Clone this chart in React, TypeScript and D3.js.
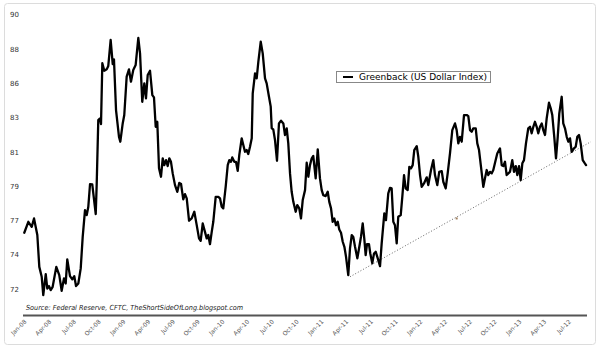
import React, { useEffect } from "react";
import * as d3 from "d3";

// months since Jan-2008 (category position) and index values
const months = [-0.45,0.04,0.45,0.73,1.13,1.37,1.66,1.85,2.15,2.34,2.55,2.75,2.99,3.43,3.79,4.08,4.36,4.57,4.76,5.09,5.37,5.61,5.82,6.10,6.39,6.63,6.91,7.12,7.31,7.52,7.79,8.21,8.33,8.52,8.73,8.85,9.01,9.25,9.54,9.73,10.02,10.27,10.42,10.67,11.03,11.19,11.48,11.67,11.96,12.24,12.48,12.76,13.05,13.37,13.58,13.85,14.10,14.30,14.51,14.79,15.07,15.27,15.48,15.67,15.88,16.12,16.33,16.52,16.73,16.93,17.13,17.33,17.54,17.82,18.10,18.34,18.55,18.82,19.03,19.24,19.52,19.84,20.16,20.45,20.73,20.93,21.18,21.45,21.66,21.85,22.06,22.27,22.46,22.75,23.07,23.27,23.48,23.67,23.96,24.21,24.40,24.61,24.76,25.01,25.21,25.42,25.61,25.90,26.10,26.30,26.51,26.70,26.91,27.12,27.24,27.52,27.72,27.92,28.21,28.45,28.73,28.93,29.21,29.42,29.54,29.73,29.94,30.18,30.42,30.67,30.95,31.15,31.36,31.55,31.76,31.96,32.16,32.45,32.64,32.88,33.09,33.30,33.58,33.78,33.98,34.18,34.39,34.58,34.87,35.12,35.39,35.60,35.79,36.08,36.33,36.52,36.73,36.93,37.13,37.33,37.54,37.73,37.94,38.15,38.35,38.55,38.82,39.03,39.24,39.43,39.64,39.92,40.16,40.36,40.57,40.76,40.93,41.09,41.33,41.49,41.73,41.94,42.15,42.34,42.67,42.87,43.19,43.39,43.67,43.88,44.08,44.28,44.48,44.69,44.88,45.18,45.37,45.58,45.78,46.02,46.22,46.42,46.63,46.82,47.12,47.31,47.52,47.72,48.00,48.33,48.52,48.85,49.13,49.33,49.61,49.85,50.15,50.34,50.63,50.87,51.15,51.43,51.76,51.96,52.16,52.36,52.57,52.85,53.18,53.37,53.58,53.78,53.98,54.27,54.46,54.67,54.91,55.19,55.39,55.60,55.79,56.00,56.21,56.40,56.61,56.88,57.21,57.42,57.61,57.82,58.02,58.22,58.42,58.70,58.91,59.12,59.31,59.52,59.72,59.92,60.12,60.36,60.64,60.85,61.05,61.25,61.45,61.66,61.85,62.06,62.27,62.46,62.67,62.87,63.15,63.36,63.55,63.79,64.00,64.21,64.40,64.69,64.88,65.09,65.30,65.49,65.70,65.90,66.18,66.39,66.58,66.79,66.99,67.24,67.44,67.64];

const values = [75.70,76.42,76.09,76.64,75.55,73.46,72.81,71.60,72.98,72.04,72.20,71.93,72.15,73.46,72.92,71.89,72.70,72.37,73.95,72.85,72.64,72.85,72.20,72.37,73.36,75.43,77.19,76.86,77.41,78.90,78.88,76.93,78.94,83.10,83.21,82.84,86.83,86.34,86.43,86.65,88.36,86.78,87.09,83.76,82.00,81.68,82.88,83.43,85.95,86.43,85.62,86.39,86.72,88.49,87.48,84.30,85.51,84.53,86.06,86.34,84.74,84.59,82.66,82.99,79.93,79.38,80.59,80.14,80.47,80.08,80.59,80.36,79.60,78.83,78.39,78.98,78.90,77.89,78.24,77.96,76.49,76.64,77.08,76.20,75.33,75.17,76.31,75.76,75.33,75.55,74.95,75.76,76.42,78.06,78.06,77.96,77.41,77.30,78.72,80.14,80.47,80.36,80.65,80.36,80.36,79.77,80.80,81.90,81.46,81.02,81.13,80.87,81.35,81.90,84.86,86.17,85.84,86.93,88.25,87.48,85.84,85.51,84.63,83.98,82.56,82.49,81.79,80.43,82.88,83.06,82.88,82.12,82.56,81.57,79.60,78.39,77.73,77.08,77.52,77.30,76.64,77.85,78.50,80.30,79.38,80.14,80.59,80.74,79.27,81.18,79.27,78.50,78.17,78.11,78.39,77.73,77.30,76.42,76.64,76.20,76.42,75.92,75.70,75.11,74.78,74.12,72.92,74.67,75.55,75.43,74.78,74.02,74.78,75.43,76.31,75.33,74.23,74.95,74.95,74.34,73.69,74.34,74.45,74.12,73.51,75.00,76.97,76.53,78.29,78.65,78.61,76.42,76.20,75.00,76.75,76.86,78.06,79.49,78.61,78.50,80.03,79.93,80.14,81.13,81.39,80.69,79.49,78.72,78.94,79.34,78.83,79.82,80.47,79.49,78.83,79.70,79.75,79.05,78.61,79.60,80.91,82.44,82.88,82.44,81.57,82.00,81.68,83.43,83.43,83.36,82.44,82.33,82.56,82.56,81.57,81.13,80.03,78.72,79.27,79.82,79.49,79.70,79.60,79.82,80.30,80.91,81.24,80.14,80.08,80.36,79.49,79.60,79.70,80.47,79.70,80.08,79.49,80.08,79.16,80.26,80.47,81.57,82.56,82.66,82.23,82.66,82.99,82.66,82.23,82.66,82.88,82.44,82.12,83.21,84.24,83.87,83.43,82.00,80.59,82.00,83.54,84.63,82.88,82.56,82.00,81.68,81.90,81.02,81.24,81.35,82.00,82.12,81.57,80.47,80.30,80.14];

const xTickLabels = ["Jan-08","Apr-08","Jul-08","Oct-08","Jan-09","Apr-09","Jul-09","Oct-09","Jan-10","Apr-10","Jul-10","Oct-10","Jan-11","Apr-11","Jul-11","Oct-11","Jan-12","Apr-12","Jul-12","Oct-12","Jan-13","Apr-13","Jul-12"];
const xTickMonths = xTickLabels.map((_, i) => i * 3);

const yTickValues = [72, 74.25, 76.5, 78.75, 81, 83.25, 85.5, 87.75, 90];

const trendMonths = [39.03, 68.24];
const trendValues = [72.81, 81.68];
const trendMarker = [51.96, 76.64];

const seriesName = "Greenback (US Dollar Index)";
const sourceText = "Source: Federal Reserve, CFTC, TheShortSideOfLong.blogspot.com";

const W = 599, H = 351;

export default function App() {
  useEffect(() => {
    document.body.style.margin = "0";
  }, []);

  const x = d3.scaleLinear().domain([0, 66]).range([28, 572.5]);
  const y = d3.scaleLinear().domain([70.3, 90]).range([315, 15]);

  const pts = d3.zip(months, values) as [number, number][];
  const line = d3.line<[number, number]>()
    .x(d => x(d[0]))
    .y(d => y(d[1]));

  const font = "'DejaVu Sans', Verdana, sans-serif";

  return (
    <svg width={W} height={H} style={{ display: "block", background: "#fff" }}>
      <rect x={4.5} y={3.5} width={591} height={341} rx={3} fill="#fff" stroke="#dcdcdc" strokeWidth={1} />

      {/* y tick labels */}
      {yTickValues.map((v, i) => (
        <text key={i} x={10} y={y(v)} dy="0.35em" fontFamily={font} fontSize={7} fill="#333">
          {Math.round(v)}
        </text>
      ))}

      {/* trend line */}
      <line
        x1={x(trendMonths[0])} y1={y(trendValues[0])}
        x2={x(trendMonths[1])} y2={y(trendValues[1])}
        stroke="#666" strokeWidth={1} strokeDasharray="1,2"
      />
      <rect x={x(trendMarker[0]) - 1} y={y(trendMarker[1]) - 1} width={2} height={2} fill="#a08060" />

      {/* series */}
      <path d={line(pts) || ""} fill="none" stroke="#000" strokeWidth={2.3} strokeLinejoin="round" strokeLinecap="round" />

      {/* source text */}
      <text x={26} y={310} fontFamily={font} fontSize={7} fontStyle="italic" fill="#222" textLength={217} lengthAdjust="spacingAndGlyphs">
        {sourceText}
      </text>

      {/* x axis */}
      <line x1={23} x2={587} y1={315.5} y2={315.5} stroke="#555" strokeWidth={2} />
      {xTickMonths.map((m, i) => (
        <text key={i} transform={`translate(${x(m) - 1},${322}) rotate(-45)`} textAnchor="end" fontFamily={font} fontSize={6} fill="#555">
          {xTickLabels[i]}
        </text>
      ))}

      {/* legend */}
      <rect x={336.5} y={71.5} width={154} height={11} fill="#fff" stroke="#888" strokeWidth={1} />
      <line x1={343} x2={353} y1={77} y2={77} stroke="#000" strokeWidth={2} />
      <text x={359} y={77} dy="0.35em" fontFamily={font} fontSize={9} fill="#000" textLength={128} lengthAdjust="spacingAndGlyphs">
        {seriesName}
      </text>
    </svg>
  );
}
